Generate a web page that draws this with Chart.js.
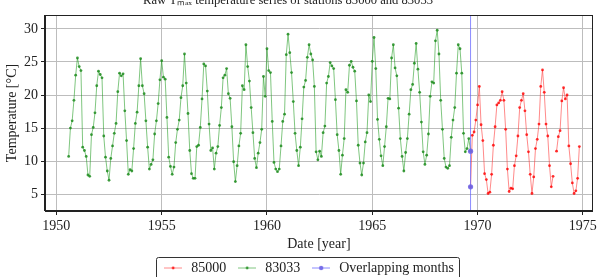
<!DOCTYPE html>
<html>
<head>
<meta charset="utf-8">
<script src="https://cdn.jsdelivr.net/npm/chart.js@4.4.1/dist/chart.umd.min.js"></script>
<style>
  html, body { margin: 0; padding: 0; background: #fff; width: 600px; height: 277px; overflow: hidden; }
  #wrap { position: absolute; left: 0; top: -7px; width: 600px; height: 292px; }
</style>
</head>
<body>
<div id="wrap"><canvas id="tempChart" width="600" height="292"></canvas></div>
<script>
var SERIF = "'Liberation Serif', 'Times New Roman', serif";

// monthly Tmax, station 83033 (starts Aug 1950)
var start83033 = { year: 1950, month: 8 };
var tmax83033 = [
  10.7, 15.0, 16.1, 19.2, 23.0, 25.6, 24.3, 23.7, 12.1, 11.6, 10.7, 7.9,
  7.7, 14.0, 15.1, 17.3, 21.4, 23.6, 23.1, 22.6, 13.8, 10.6, 8.5, 7.1,
  10.4, 12.3, 14.2, 15.7, 20.5, 23.3, 22.9, 23.2, 17.6, 13.1, 8.0, 8.7,
  8.5, 11.9, 15.7, 17.4, 21.4, 25.5, 21.4, 20.2, 16.1, 12.1, 8.8, 9.5,
  10.2, 14.1, 16.1, 18.7, 22.3, 25.2, 22.7, 22.4, 16.6, 10.6, 9.2, 8.0,
  9.1, 12.8, 14.8, 16.2, 19.6, 21.4, 26.2, 21.8, 17.2, 11.6, 8.1, 7.4,
  7.4, 12.2, 12.4, 15.1, 19.4, 24.7, 24.4, 20.6, 15.6, 11.6, 12.0, 8.8,
  11.2, 12.2, 15.4, 18.1, 22.6, 23.0, 24.0, 20.2, 19.5, 15.2, 9.9, 6.9,
  9.3, 12.3, 14.2, 21.4, 20.8, 27.6, 24.3, 22.1, 18.1, 14.3, 10.4, 9.0,
  11.2, 12.8, 14.8, 22.8, 19.8, 27.0, 23.7, 23.4, 16.0, 9.8, 8.8, 8.4,
  8.8, 12.3, 16.0, 17.1, 26.1, 29.2, 26.4, 23.4, 19.0, 14.2, 11.6, 9.3,
  12.1, 16.4, 21.2, 22.2, 25.7, 27.6, 26.2, 25.3, 21.3, 11.4, 10.2, 11.5,
  10.7, 14.3, 15.3, 21.8, 22.8, 24.9, 24.4, 24.0, 19.3, 14.0, 11.6, 8.0,
  10.9, 13.4, 20.8, 20.4, 24.5, 25.1, 24.2, 23.6, 19.1, 12.4, 9.7, 7.9,
  9.7, 12.9, 14.3, 20.0, 19.0, 25.1, 28.7, 24.0, 16.3, 13.3, 10.8, 9.3,
  12.2, 15.2, 19.5, 19.4, 25.6, 27.6, 24.1, 22.9, 18.0, 13.4, 10.7, 8.5,
  11.3, 13.4, 17.1, 20.8, 21.6, 24.8, 27.8, 23.9, 20.4, 15.9, 11.4, 9.5,
  10.9, 14.1, 19.8, 22.0, 21.8, 28.2, 29.8, 26.2, 19.2, 14.8, 10.4, 9.1,
  8.9, 9.3, 13.6, 16.2, 18.1, 23.3, 27.6, 27.0, 23.3, 14.2, 11.4, 11.9,
  13.4, 11.5
];

// monthly Tmax, station 85000 (starts Sep 1969), null = missing month
var start85000 = { year: 1969, month: 9 };
var tmax85000 = [
  6.1, 13.9, 14.4, 16.2, 18.5, 21.3, 15.5, 13.1, 8.1, 7.2, 5.1, 5.3,
  8.0, 12.4, 15.2, 18.5, 18.8, 19.2, 20.5, 19.2, 14.8, 8.8, 5.4, 5.9,
  5.8, 9.3, 10.8, 13.8, 18.1, 19.2, 20.2, 17.6, 14.0, 11.4, 8.0, 5.1,
  7.6, 11.9, 13.3, 15.6, 21.3, 23.8, 20.4, 15.6, 13.8, 9.3, 6.1, 7.7,
  null, 11.5, 13.7, 14.6, 19.1, 21.1, 19.4, 20.0, 12.3, 9.6, 6.7, 5.1,
  5.5, 7.4, 12.2
];

// month covered by both stations and its two values
var overlapMonth = { year: 1969, month: 9 };
var overlapValues = [11.5, 6.1];

var xTicks = [1950, 1955, 1960, 1965, 1970, 1975];
var yTicks = [5, 10, 15, 20, 25, 30];
var xLimits = [1949.46, 1975.47];
var yLimits = [2.45, 32.1];

function monthValue(start, i) {
  return start.year + (start.month - 1 + i) / 12;
}

function monthlyPoints(start, values) {
  return values.map(function (v, i) { return { x: monthValue(start, i), y: v }; });
}

var overlapX = monthValue(overlapMonth, 0);
var overlapPoints = [yLimits[0], overlapValues[1], overlapValues[0], yLimits[1]].map(function (v) {
  return { x: overlapX, y: v };
});
var overlapRadius = overlapPoints.map(function (p) { return overlapValues.indexOf(p.y) >= 0 ? 2.6 : 0; });

function legendSwatch(lineColor, dotColor, r) {
  var c = document.createElement('canvas');
  c.width = 18; c.height = 8;
  var g = c.getContext('2d');
  g.strokeStyle = lineColor; g.lineWidth = 1;
  g.beginPath(); g.moveTo(0, 4); g.lineTo(18, 4); g.stroke();
  g.fillStyle = dotColor;
  g.beginPath(); g.arc(9, 4, r, 0, Math.PI * 2); g.fill();
  return c;
}

var swatches = [
  legendSwatch('rgba(255,60,60,0.6)', 'rgba(255,0,0,0.8)', 1.4),
  legendSwatch('rgba(44,160,44,0.6)', 'rgba(30,140,30,0.85)', 1.4),
  legendSwatch('rgba(90,90,255,0.7)', 'rgba(110,100,230,0.9)', 2.2)
];

var LEGEND_CENTER = 308;
var TITLE_CENTER = 288;

var framePlugin = {
  id: 'frame',
  afterLayout: function (chart) {
    // nudge legend and title to their reference positions
    var lg = chart.legend;
    var dx = LEGEND_CENTER - (lg.left + lg.right) / 2;
    lg.left += dx; lg.right += dx;
    var tb = chart.titleBlock;
    var tx = TITLE_CENTER - (tb.left + tb.right) / 2;
    tb.left += tx; tb.right += tx;
  },
  beforeDraw: function (chart) {
    var lg = chart.legend;
    var hb = lg.legendHitBoxes;
    if (!hb || !hb.length) return;
    var pad = lg.options.labels.padding;
    var fontSize = lg.options.labels.font.size;
    var total = 0;
    hb.forEach(function (h) { total += h.width; });
    total += pad * (hb.length - 1);
    var x0 = (lg.left + pad + lg.right - lg.lineWidths[0]) / 2;
    var mid = lg.top + pad + fontSize / 2;
    var ctx = chart.ctx;
    var l = Math.round(x0 - 6) + 0.5;
    var r = Math.round(x0 + total + 5) + 0.5;
    var t = Math.round(mid - 11) + 0.5;
    var b = Math.round(mid + 11) + 0.5;
    ctx.save();
    ctx.fillStyle = '#fff';
    ctx.strokeStyle = '#333';
    ctx.lineWidth = 1;
    ctx.beginPath();
    ctx.roundRect(l, t, r - l, b - t, 2);
    ctx.fill(); ctx.stroke();
    ctx.restore();
  },
  afterDraw: function (chart) {
    var a = chart.chartArea, ctx = chart.ctx;
    ctx.save();
    ctx.strokeStyle = '#222';
    ctx.lineWidth = 1;
    ctx.strokeRect(Math.round(a.left) - 0.5, Math.round(a.top) + 0.5,
      Math.round(a.right - a.left), Math.round(a.bottom - a.top) - 1);
    ctx.restore();
  }
};

Chart.defaults.color = '#222';
Chart.defaults.font.family = SERIF;

var ctx = document.getElementById('tempChart').getContext('2d');
new Chart(ctx, {
  type: 'scatter',
  data: {
    datasets: [
      {
        label: '85000', data: monthlyPoints(start85000, tmax85000), showLine: true, spanGaps: false,
        borderColor: 'rgba(255,60,60,0.6)', borderWidth: 1,
        pointRadius: 1.4, pointBackgroundColor: 'rgba(255,0,0,0.8)', pointBorderWidth: 0, order: 2
      },
      {
        label: '83033', data: monthlyPoints(start83033, tmax83033), showLine: true,
        borderColor: 'rgba(44,160,44,0.6)', borderWidth: 1,
        pointRadius: 1.4, pointBackgroundColor: 'rgba(30,140,30,0.85)', pointBorderWidth: 0, order: 3
      },
      {
        label: 'Overlapping months', data: overlapPoints, showLine: true,
        borderColor: 'rgba(90,90,255,0.7)', borderWidth: 1,
        pointRadius: overlapRadius, pointBackgroundColor: 'rgba(110,100,230,0.9)', pointBorderWidth: 0, order: 0
      }
    ]
  },
  options: {
    responsive: false,
    animation: false,
    events: [],
    layout: { padding: { left: 0, right: 7, top: 0, bottom: 0 } },
    plugins: {
      title: {
        display: true,
        text: 'Raw T\u2098\u2090\u2093 temperature series of stations 85000 and 83033',
        color: '#222',
        font: { family: SERIF, size: 12.6, weight: 'normal', lineHeight: 1.24 },
        padding: { top: 0, bottom: 6.4 }
      },
      legend: {
        position: 'bottom',
        labels: {
          usePointStyle: true,
          pointStyleWidth: 22,
          padding: 10,
          color: '#222',
          font: { family: SERIF, size: 14 },
          sort: function (a, b) { return a.datasetIndex - b.datasetIndex; },
          generateLabels: function (chart) {
            var items = Chart.defaults.plugins.legend.labels.generateLabels(chart);
            items.forEach(function (it) { it.pointStyle = swatches[it.datasetIndex]; });
            return items;
          }
        }
      },
      tooltip: { enabled: false }
    },
    scales: {
      x: {
        type: 'linear', min: xLimits[0], max: xLimits[1],
        afterBuildTicks: function (s) { s.ticks = xTicks.map(function (v) { return { value: v }; }); },
        afterFit: function (s) { s.height = 40; },
        ticks: { font: { family: SERIF, size: 14 }, color: '#222', padding: 3, maxRotation: 0,
          callback: function (v) { return String(v); } },
        grid: { color: '#bdbdbd', lineWidth: 1, tickLength: 4, tickColor: '#222' },
        border: { color: '#222', width: 1 },
        title: { display: true, text: 'Date [year]', color: '#222',
          font: { family: SERIF, size: 14, lineHeight: 1.0 }, padding: { top: 0, bottom: 0 } }
      },
      y: {
        min: yLimits[0], max: yLimits[1],
        afterBuildTicks: function (s) { s.ticks = yTicks.map(function (v) { return { value: v }; }); },
        afterFit: function (s) { s.width = 45; },
        ticks: { font: { family: SERIF, size: 14 }, color: '#222', padding: 3 },
        grid: { color: '#bdbdbd', lineWidth: 1, tickLength: 4, tickColor: '#222' },
        border: { color: '#222', width: 1 },
        title: { display: true, text: 'Temperature [°C]', color: '#222',
          font: { family: SERIF, size: 14, lineHeight: 1.2 }, padding: { top: 4, bottom: 0 } }
      }
    }
  },
  plugins: [framePlugin]
});
</script>
</body>
</html>
